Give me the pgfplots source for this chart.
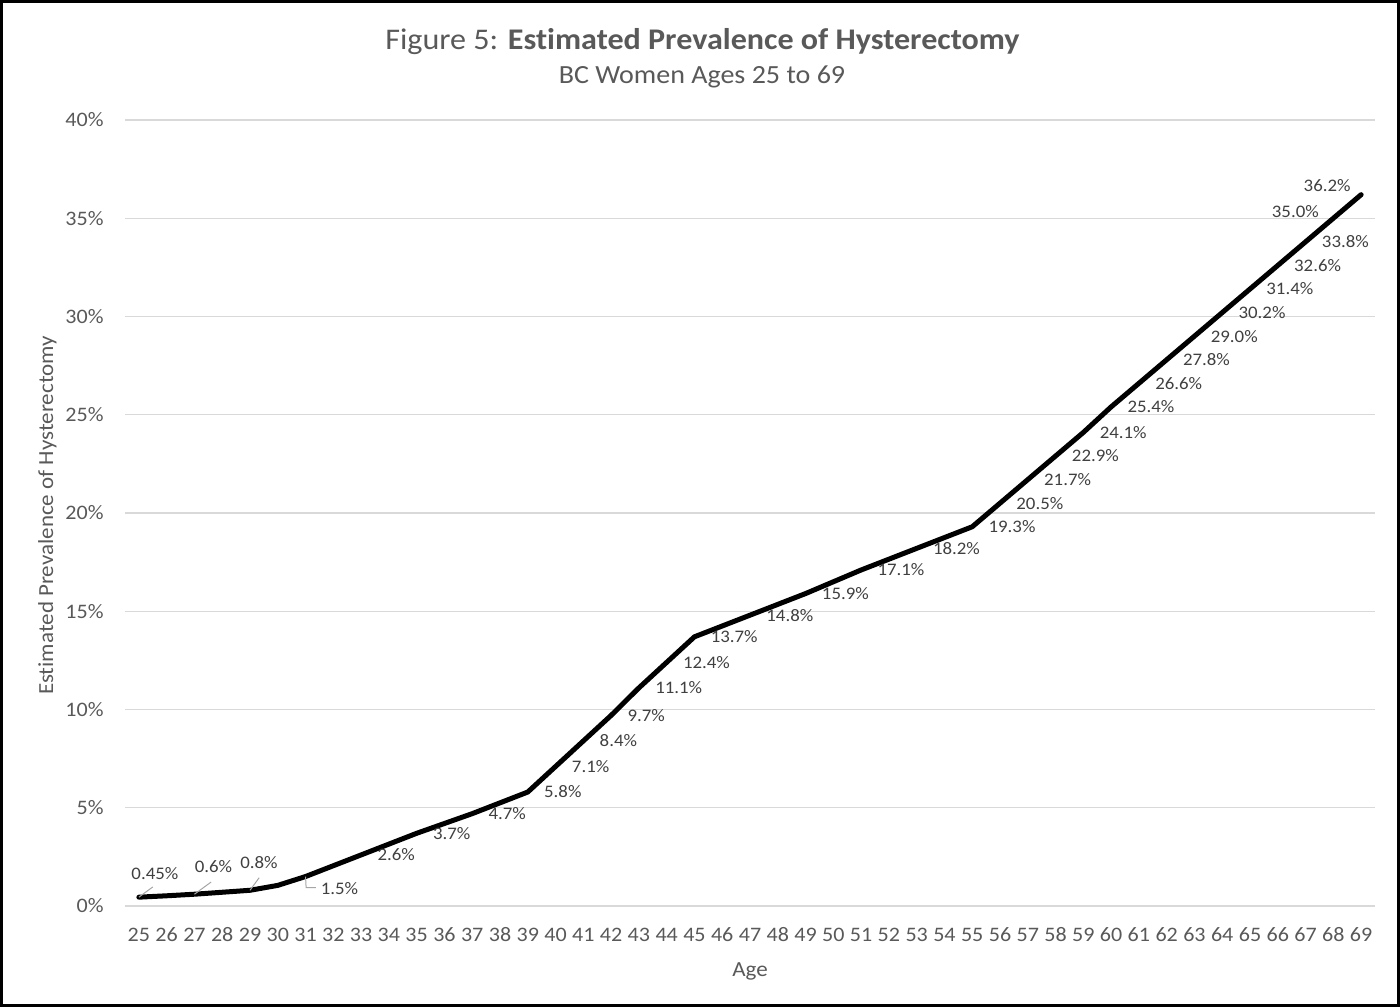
\documentclass[border=0pt]{standalone}
\usepackage{pgfplots}
\pgfplotsset{compat=1.18}
\usepackage{fontspec}
\setmainfont{Carlito}[FakeStretch=1.07, RawFeature={-liga;-clig;-dlig;-calt}]
\definecolor{txt}{HTML}{595959}
\definecolor{lbl}{HTML}{404040}
\definecolor{gridgray}{HTML}{D9D9D9}
\definecolor{lead}{HTML}{A6A6A6}

\begin{document}
\begin{tikzpicture}
\begin{axis}[
  scale only axis,
  width=625pt, height=393pt,
  xmin=24.5, xmax=69.5,
  ymin=0, ymax=40,
  xtick={25,...,69},
  ytick={0,5,...,40},
  yticklabel={\pgfmathprintnumber{\tick}\%},
  /pgf/number format/assume math mode=true,
  major tick length=0pt,
  axis line style={draw=none},
  ymajorgrids=true, xmajorgrids=false,
  y grid style={gridgray, line width=0.6pt},
  tick label style={font=\fontsize{10.3}{12}\selectfont, text=txt},
  yticklabel style={anchor=east, inner sep=0pt, xshift=-10.5pt},
  xticklabel style={anchor=base, inner sep=0pt, yshift=-17.8pt},
  xlabel={Age},
  ylabel={Estimated Prevalence of Hysterectomy},
  label style={font=\fontsize{10.75}{12}\selectfont, text=txt},
  xlabel style={at={(axis description cs:0.5,-0.0899)}, anchor=base, inner sep=0pt},
  ylabel style={at={(axis description cs:-0.0574,0.4968)}, anchor=base, inner sep=0pt},
  clip=false,
  every node near coord/.append style={font=\fontsize{8.8}{10}\selectfont, text=lbl, inner sep=0.5pt},
]
% prevalence by single year of age
\addplot[black, line width=2.5pt, line join=round, line cap=round] coordinates {
  (25,0.45) (26,0.52) (27,0.6) (28,0.7) (29,0.8) (30,1.05) (31,1.5) (32,2.05)
  (33,2.6) (34,3.15) (35,3.7) (36,4.2) (37,4.7) (38,5.25) (39,5.8) (40,7.1)
  (41,8.4) (42,9.7) (43,11.1) (44,12.4) (45,13.7) (46,14.25) (47,14.8) (48,15.35)
  (49,15.9) (50,16.5) (51,17.1) (52,17.65) (53,18.2) (54,18.75) (55,19.3) (56,20.5)
  (57,21.7) (58,22.9) (59,24.1) (60,25.4) (61,26.6) (62,27.8) (63,29.0) (64,30.2)
  (65,31.4) (66,32.6) (67,33.8) (68,35.0) (69,36.2)
};

% value labels to the right of the line
\addplot[draw=none, mark=none, point meta=y,
  nodes near coords={\pgfmathprintnumber[fixed,fixed zerofill,precision=1]{\pgfplotspointmeta}\%},
  every node near coord/.append style={anchor=west, xshift=7.5pt, yshift=0pt}] coordinates {
  (33,2.6) (35,3.7) (37,4.7) (39,5.8) (40,7.1) (41,8.4) (42,9.7) (43,11.1)
  (44,12.4) (45,13.7) (47,14.8) (49,15.9) (51,17.1) (53,18.2) (55,19.3) (56,20.5)
  (57,21.7) (58,22.9) (59,24.1) (60,25.4) (61,26.6) (62,27.8) (63,29.0) (64,30.2)
  (65,31.4) (66,32.6) (67,33.8)
};
% labels above the line at the top end
\addplot[draw=none, mark=none, point meta=y,
  nodes near coords={\pgfmathprintnumber[fixed,fixed zerofill,precision=1]{\pgfplotspointmeta}\%},
  every node near coord/.append style={anchor=center, xshift=-19pt, yshift=3.5pt}] coordinates {(68,35.0)};
\addplot[draw=none, mark=none, point meta=y,
  nodes near coords={\pgfmathprintnumber[fixed,fixed zerofill,precision=1]{\pgfplotspointmeta}\%},
  every node near coord/.append style={anchor=center, xshift=-17pt, yshift=4.5pt}] coordinates {(69,36.2)};

% labels with leader lines at the young ages
\addplot[draw=none, mark=none, point meta=y,
  nodes near coords={\pgfmathprintnumber[fixed,precision=2]{\pgfplotspointmeta}\%},
  every node near coord/.append style={anchor=center, xshift=8pt, yshift=12pt}] coordinates {(25,0.45)};
\addplot[draw=none, mark=none, point meta=y,
  nodes near coords={\pgfmathprintnumber[fixed,precision=1]{\pgfplotspointmeta}\%},
  every node near coord/.append style={anchor=center, xshift=9.5pt, yshift=14pt}] coordinates {(27,0.6)};
\addplot[draw=none, mark=none, point meta=y,
  nodes near coords={\pgfmathprintnumber[fixed,precision=1]{\pgfplotspointmeta}\%},
  every node near coord/.append style={anchor=center, xshift=4.5pt, yshift=14pt}] coordinates {(29,0.8)};
\addplot[draw=none, mark=none, point meta=y,
  nodes near coords={\pgfmathprintnumber[fixed,precision=1]{\pgfplotspointmeta}\%},
  every node near coord/.append style={anchor=center, xshift=17pt, yshift=-6pt}] coordinates {(31,1.5)};

\draw[lead, line width=0.5pt] (axis cs:25,0.45) -- (axis cs:25.5,0.97);
\draw[lead, line width=0.5pt] (axis cs:27,0.6) -- (axis cs:27.6,1.22);
\draw[lead, line width=0.5pt] (axis cs:29,0.8) -- (axis cs:29.33,1.44);
\draw[lead, line width=0.5pt] (axis cs:31,1.5) -- (axis cs:31.02,0.93) -- (axis cs:31.37,0.93);

% chart title
\node[text=txt, anchor=base, inner sep=0pt, font=\fontsize{15}{18}\selectfont]
  at (axis description cs:0.462,1.0897) {Figure 5: \textbf{Estimated Prevalence of Hysterectomy}};
\node[text=txt, anchor=base, inner sep=0pt, font=\fontsize{13.1}{15}\selectfont]
  at (axis description cs:0.4616,1.0458) {BC Women Ages 25 to 69};
\end{axis}
\pgfresetboundingbox
\useasboundingbox (-62.5pt,-50.5pt) rectangle (637.5pt,453pt);
\draw[line width=1.5pt] (-61.75pt,-49.75pt) rectangle (636.75pt,452.25pt);
\end{tikzpicture}
\end{document}
